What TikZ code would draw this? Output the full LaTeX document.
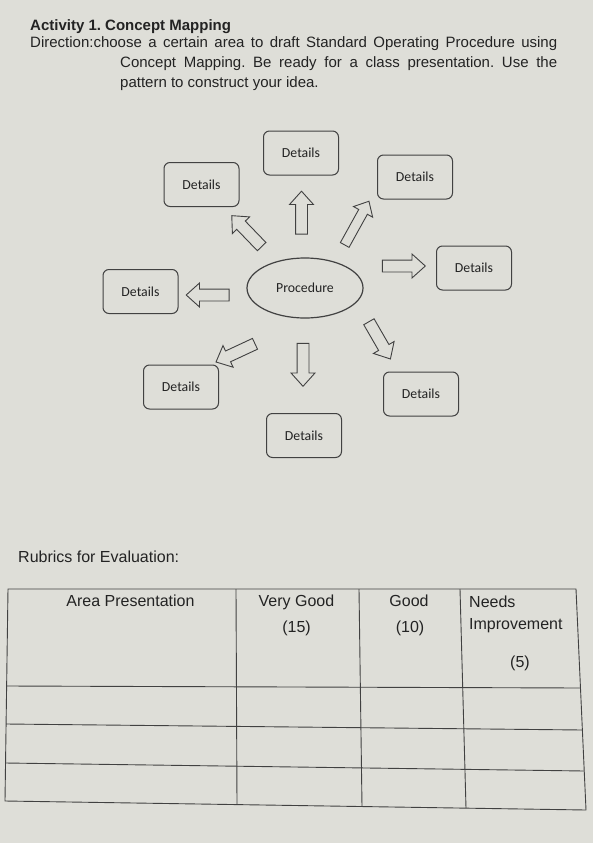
\documentclass[tikz,border=0pt]{standalone}
\usepackage{fontspec}
\usepackage{xcolor}
\setmainfont{Liberation Sans}
\newfontfamily\carlito{Carlito}
\usetikzlibrary{positioning,shapes.geometric,shapes.arrows}
\definecolor{paper}{RGB}{222,222,216}
\definecolor{ink}{RGB}{35,35,35}
\definecolor{rule}{RGB}{65,65,65}
\newcommand{\dtl}{\carlito\fontsize{13.8}{16}\selectfont}
\frenchspacing

\begin{document}
\begin{tikzpicture}[x=1pt,y=-1pt, every node/.style={text=ink},
        detail/.style={rectangle,rounded corners=6pt,draw=rule,line width=1pt,
          minimum width=75pt,minimum height=44pt,align=center,font=\dtl},
        proc/.style={ellipse,draw=rule,line width=1.2pt,minimum width=116pt,
          minimum height=60pt,font=\dtl},
        blk/.style={single arrow,draw=rule,line width=0.9pt,minimum height=43pt,
          inner xsep=0pt,inner ysep=5.5pt,single arrow head extend=6pt,single arrow tip angle=84},
        body/.style={font=\fontsize{15}{20}\selectfont,inner sep=0pt},
        cell/.style={font=\fontsize{16}{22}\selectfont,inner sep=0pt,anchor=base},
        grid/.style={draw=rule,line width=0.9pt}]
        \fill[paper] (0,0) rectangle (593,843);
        \useasboundingbox (0,0) rectangle (593,843);
        % heading
        \node[body,anchor=base west,font=\bfseries\fontsize{15}{18}\selectfont] (title) at (30,31) {Activity 1. Concept Mapping};
        \node[body,anchor=north west,text width=527pt,align=justify] (dir) at (30,36)
          {\hangindent=90pt\hangafter=1\hyphenpenalty=10000 Direction:choose a certain area to draft Standard Operating Procedure using
           Concept Mapping. Be ready for a class presentation. Use the pattern to construct your idea.\par};
        % concept map
        \node[proc] (proc) at (305,288) {Procedure};
        \node[detail] (dn) at (301,153) {Details};
        \node[detail] (dnw) at (201.5,184.5) {Details};
        \node[detail] (dne) at (415,177) {Details};
        \node[detail] (de) at (474,268) {Details};
        \node[detail] (dw) at (140.5,291.5) {Details};
        \node[detail] (dsw) at (181,387) {Details};
        \node[detail] (ds) at (304,435.5) {Details};
        \node[detail] (dse) at (421,394) {Details};
        \node[blk,rotate=90] (an) at (301.5,216) {};
        \node[blk,rotate=134] (anw) at (249,233.5) {};
        \node[blk,rotate=61,minimum height=50pt,inner ysep=4.5pt] (ane) at (355.5,225.5) {};
        \node[blk] (ae) at (400.5,266) {};
        \node[blk,rotate=180] (aw) at (211,295) {};
        \node[blk,rotate=205] (asw) at (238.5,351.5) {};
        \node[blk,rotate=-90] (as) at (303,361.5) {};
        \node[blk,rotate=-60] (ase) at (378,337.5) {};
        % rubrics
        \node[cell,anchor=base west] (rub) at (18,562) {Rubrics for Evaluation:};
        \coordinate (t1) at (8,589);
        \coordinate (t2) at (576,589);
        \coordinate (t3) at (586,810);
        \coordinate (t4) at (5,801);
        \draw[grid] (t1) -- (t2) -- (t3) -- (t4) -- cycle;
        \draw[grid] (6.6,686) -- (580.5,688);
        \draw[grid] (6.1,724) -- (582.4,730);
        \draw[grid] (5.5,763) -- (584.2,771);
        \draw[grid] (236,589) -- (237,804.6);
        \draw[grid] (359,589) -- (362,806.5);
        \draw[grid] (460,589) -- (466,808.1);
        \node[cell] (area) at (130.5,606) {Area Presentation};
        \node[cell] (vg) at (296.5,606) {Very Good};
        \node[cell] (vgpts) at (296.5,632) {(15)};
        \node[cell] (gd) at (409,606) {Good};
        \node[cell] (gdpts) at (410,632) {(10)};
        \node[cell,anchor=base west] (ni) at (469,607) {Needs};
        \node[cell,anchor=base west] (imp) at (469,629) {Improvement};
        \node[cell] (nipts) at (520,667) {(5)};
      \end{tikzpicture}
\end{document}
